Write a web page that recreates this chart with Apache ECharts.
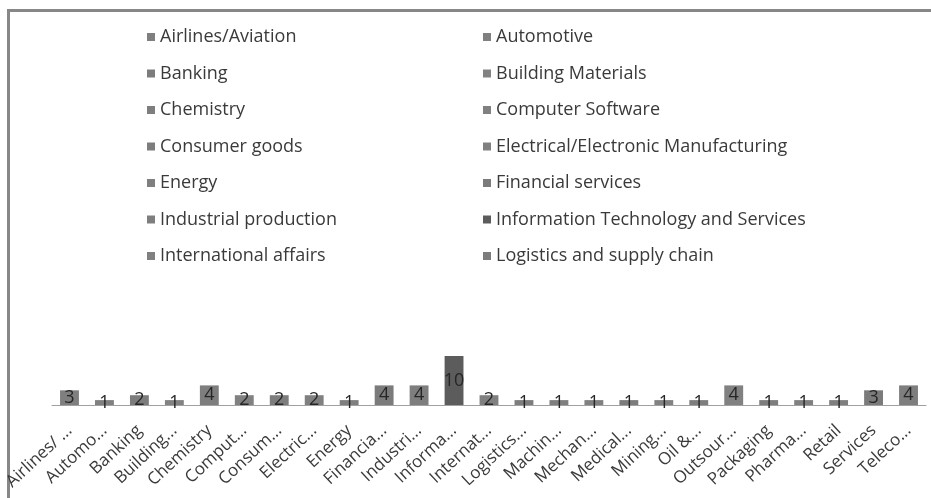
<!DOCTYPE html>
<html>
<head>
<meta charset="utf-8">
<script src="https://cdn.jsdelivr.net/npm/echarts@6/dist/echarts.min.js"></script>
<style>
  html, body { margin: 0; padding: 0; background: #fff; }
  #chart { width: 931px; height: 498px; }
</style>
</head>
<body>
<div id="chart"></div>
<script>
// categories (full names, used for the series / legend)
var categories = [
  'Airlines/Aviation', 'Automotive', 'Banking', 'Building Materials', 'Chemistry',
  'Computer Software', 'Consumer goods', 'Electrical/Electronic Manufacturing', 'Energy',
  'Financial services', 'Industrial production', 'Information Technology and Services',
  'International affairs', 'Logistics and supply chain', 'Machinery',
  'Mechanical or Industrial Engineering', 'Medical Devices', 'Mining & Metals',
  'Oil & Energy', 'Outsourcing/Offshoring', 'Packaging', 'Pharmaceuticals',
  'Retail', 'Services', 'Telecommunications'
];
// tick labels as printed under the axis
var tickLabels = [
  'Airlines/ ...', 'Automo...', 'Banking', 'Building...', 'Chemistry',
  'Comput...', 'Consum...', 'Electric...', 'Energy', 'Financia...',
  'Industri...', 'Informa...', 'Internat...', 'Logistics...', 'Machin...',
  'Mechan...', 'Medical...', 'Mining...', 'Oil &...', 'Outsour...',
  'Packaging', 'Pharma...', 'Retail', 'Services', 'Teleco...'
];
// counts per category
var counts = [3, 1, 2, 1, 4, 2, 2, 2, 1, 4, 4, 10, 2, 1, 1, 1, 1, 1, 1, 4, 1, 1, 1, 3, 4];
// legend only lists the first 14 entries
var legendCount = 14;

var FONT = 'Open Sans';
var grays = ['#7f7f7f', '#808080', '#7c7c7c', '#828282', '#7e7e7e', '#818181', '#7d7d7d',
  '#808080', '#7f7f7f', '#7b7b7b', '#7e7e7e', '#5c5c5c', '#808080', '#7d7d7d'];

var series = [];
for (var i = 0; i < categories.length; i++) {
  var d = [];
  for (var j = 0; j < categories.length; j++) d.push(j === i ? counts[i] : '-');
  series.push({
    name: categories[i],
    type: 'bar',
    stack: 'all',
    barWidth: '54%',
    data: d,
    itemStyle: { color: grays[i % grays.length] },
    label: {
      show: true,
      position: 'inside',
      color: '#262626',
      fontSize: 18,
      fontFamily: FONT
    }
  });
}

var leftCol = [], rightCol = [];
for (var k = 0; k < legendCount; k++) {
  if (k % 2 === 0) leftCol.push(categories[k]); else rightCol.push(categories[k]);
}

var legendBase = {
  orient: 'vertical',
  top: 27,
  padding: 0,
  icon: 'rect',
  itemWidth: 8,
  itemHeight: 8,
  itemGap: 16.5,
  selectedMode: false,
  textStyle: { color: '#3a3a3a', fontSize: 18, lineHeight: 20, fontFamily: FONT }
};

var myChart = echarts.init(document.getElementById('chart'));
var option = {
  animation: false,
  color: grays,
  graphic: [{
    type: 'rect',
    shape: { x: 8.5, y: 10.5, width: 940, height: 500 },
    style: { fill: 'none', stroke: '#878787', lineWidth: 3 }
  }],
  legend: [
    Object.assign({}, legendBase, { left: 147, data: leftCol }),
    Object.assign({}, legendBase, { left: 483, data: rightCol })
  ],
  grid: { left: 52, right: 5, top: 356, bottom: 93 },
  xAxis: {
    type: 'category',
    data: categories,
    axisLine: { lineStyle: { color: '#a0a0a0', width: 1 } },
    axisTick: { show: false },
    axisLabel: {
      interval: 0,
      rotate: 43,
      margin: 23,
      color: '#3a3a3a',
      fontSize: 17,
      fontFamily: FONT,
      formatter: function (v, idx) { return tickLabels[idx]; }
    }
  },
  yAxis: { type: 'value', show: false, min: 0, max: 10 },
  series: series
};
myChart.setOption(option);
</script>
</body>
</html>
